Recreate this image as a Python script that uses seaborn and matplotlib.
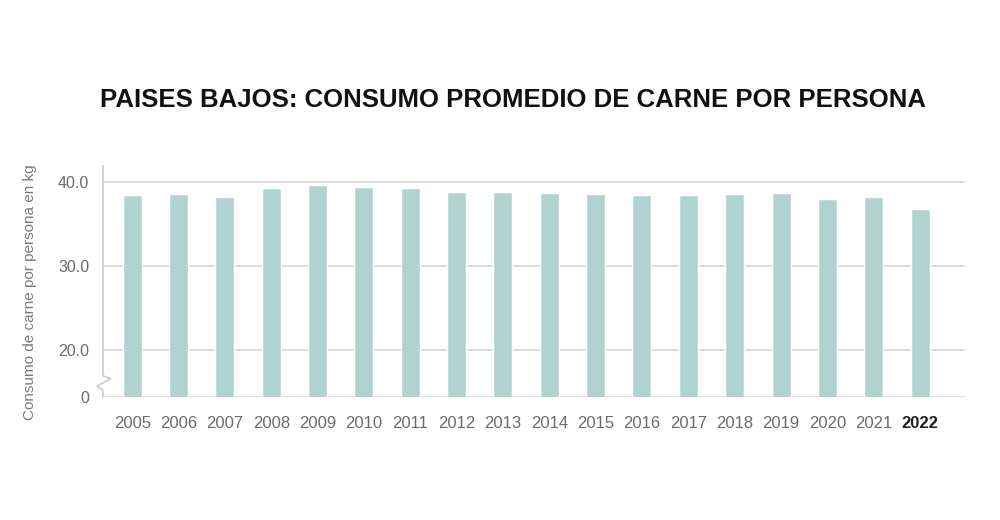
import pandas as pd
import matplotlib
matplotlib.use('Agg')
import matplotlib.pyplot as plt
import matplotlib.transforms as mtransforms
import seaborn as sns

# data
years = ['2005', '2006', '2007', '2008', '2009', '2010', '2011', '2012', '2013',
         '2014', '2015', '2016', '2017', '2018', '2019', '2020', '2021', '2022']
kg_per_person = [38.4, 38.5, 38.2, 39.2, 39.6, 39.4, 39.2, 38.8, 38.8,
                 38.7, 38.5, 38.4, 38.4, 38.5, 38.7, 37.9, 38.2, 36.7]
ytick_values = [14.4, 20, 30, 40]
ytick_labels = ['0', '20.0', '30.0', '40.0']

title = 'PAISES BAJOS: CONSUMO PROMEDIO DE CARNE POR PERSONA'
ylabel = 'Consumo de carne por persona en kg'

bar_color = '#b0d3d2'
grid_color = '#dcdcdc'
text_color = '#6b6b6b'

sns.set_style('white')
plt.rcParams['font.family'] = ['Liberation Sans', 'DejaVu Sans']

df = pd.DataFrame({'year': years, 'kg': kg_per_person})

fig = plt.figure(figsize=(10, 5.2), dpi=100)
ax = fig.add_axes([0.103, 0.2365, 0.862, 0.4465])

sns.barplot(data=df, x='year', y='kg', color=bar_color, width=0.41,
            saturation=1, ax=ax, zorder=3)

ax.set_ylim(14.4, 42)
ax.set_xlim(-0.63, len(years) - 1 + 0.97)
ax.set_yticks(ytick_values)
ax.set_yticklabels(ytick_labels)

# horizontal grid, with the ticks poking left of the axis
ax.yaxis.grid(True, color=grid_color, linewidth=1.4, zorder=0)
ax.tick_params(axis='y', length=6, width=1.4, color=grid_color, pad=4,
               labelsize=11.5, labelcolor=text_color)
ax.tick_params(axis='x', length=0, pad=14, labelsize=12,
               labelcolor=text_color)
last = ax.get_xticklabels()[-1]
last.set_fontweight('bold')
last.set_color('#1e1e1e')

for s in ['top', 'right', 'bottom', 'left']:
    ax.spines[s].set_visible(False)

# left axis line with a zigzag break between 0 and 20
trans = mtransforms.blended_transform_factory(ax.transAxes, ax.transData)
spine_x = [0, 0, 0.009, -0.007, 0, 0]
spine_y = [41.9, 16.9, 16.6, 15.7, 15.2, 14.4]
ax.plot(spine_x, spine_y, transform=trans, color='#cfcfcf', linewidth=1.3,
        clip_on=False, zorder=4)

ax.set_xlabel('')
ax.set_ylabel(ylabel, fontsize=11, color='#7a7a7a')
ax.yaxis.set_label_coords(-0.077, 0.45)

fig.text(0.513, 0.807, title, ha='center', va='center', fontsize=18.5,
         fontweight='bold', color='#111111')

fig.savefig('out.png', dpi=100)
